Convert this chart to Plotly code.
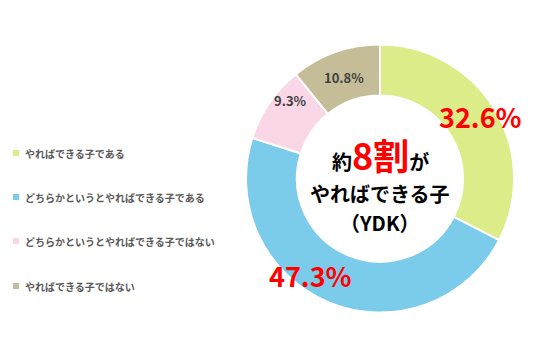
import plotly.graph_objects as go

categories = ["やればできる子である", "どちらかというとやればできる子である",
              "どちらかというとやればできる子ではない", "やればできる子ではない"]
values = [32.6, 47.3, 9.3, 10.8]
colors = ["#DCEC88", "#7BCBEA", "#F9D7E7", "#C5BD97"]
big_label = [True, True, False, False]

JP = "Noto Sans CJK JP"

fig = go.Figure(go.Pie(
    labels=categories, values=values, sort=False, direction="clockwise",
    hole=0.62, marker=dict(colors=colors, line=dict(color="white", width=2)),
    textinfo="none",
    domain=dict(x=[0.459, 0.959], y=[0.128, 0.877]),
    showlegend=False, hoverinfo="label+percent",
))

annotations = []
# slice labels (placement as in the original chart)
label_pos = [(480, 116), (310, 275), (290, 101), (344, 77)]
for v, b, (x, y) in zip(values, big_label, label_pos):
    annotations.append(dict(x=x / 536, y=1 - y / 359, xref="paper", yref="paper",
                            xanchor="center", yanchor="middle",
                            text=f"<b>{v:.1f}%</b>", showarrow=False,
                            font=dict(family=JP, size=27 if b else 13,
                                      color="#FF0000" if b else "#404040")))

# center text
center_lines = [
    ("<b>約<span style='color:#FF0000;font-size:36px'>8割</span>が</b>", 154),
    ("<b>やればできる子</b>", 193),
    ("<b>（YDK）</b>", 222),
]
for txt, cy in center_lines:
    annotations.append(dict(x=380 / 536, y=1 - cy / 359, xref="paper", yref="paper", showarrow=False,
                            xanchor="center", yanchor="middle", text=txt,
                            font=dict(family=JP, size=20, color="#000000")))

# legend
shapes = []
legend_y = [153, 197, 241, 286]
for cat, col, ly in zip(categories, colors, legend_y):
    shapes.append(dict(type="rect", xref="paper", yref="paper",
                       x0=13 / 536, x1=19 / 536, y0=1 - (ly + 3) / 359, y1=1 - (ly - 3) / 359,
                       fillcolor=col, line=dict(width=0)))
    annotations.append(dict(x=23 / 536, y=1 - ly / 359, xref="paper", yref="paper",
                            xanchor="left", yanchor="middle", showarrow=False, text=f"<b>{cat}</b>",
                            font=dict(family=JP, size=10, color="#595959")))

fig.update_layout(width=536, height=359, margin=dict(l=0, r=0, t=0, b=0),
                  paper_bgcolor="white", plot_bgcolor="white",
                  annotations=annotations, shapes=shapes)

fig.write_html("out.html")
